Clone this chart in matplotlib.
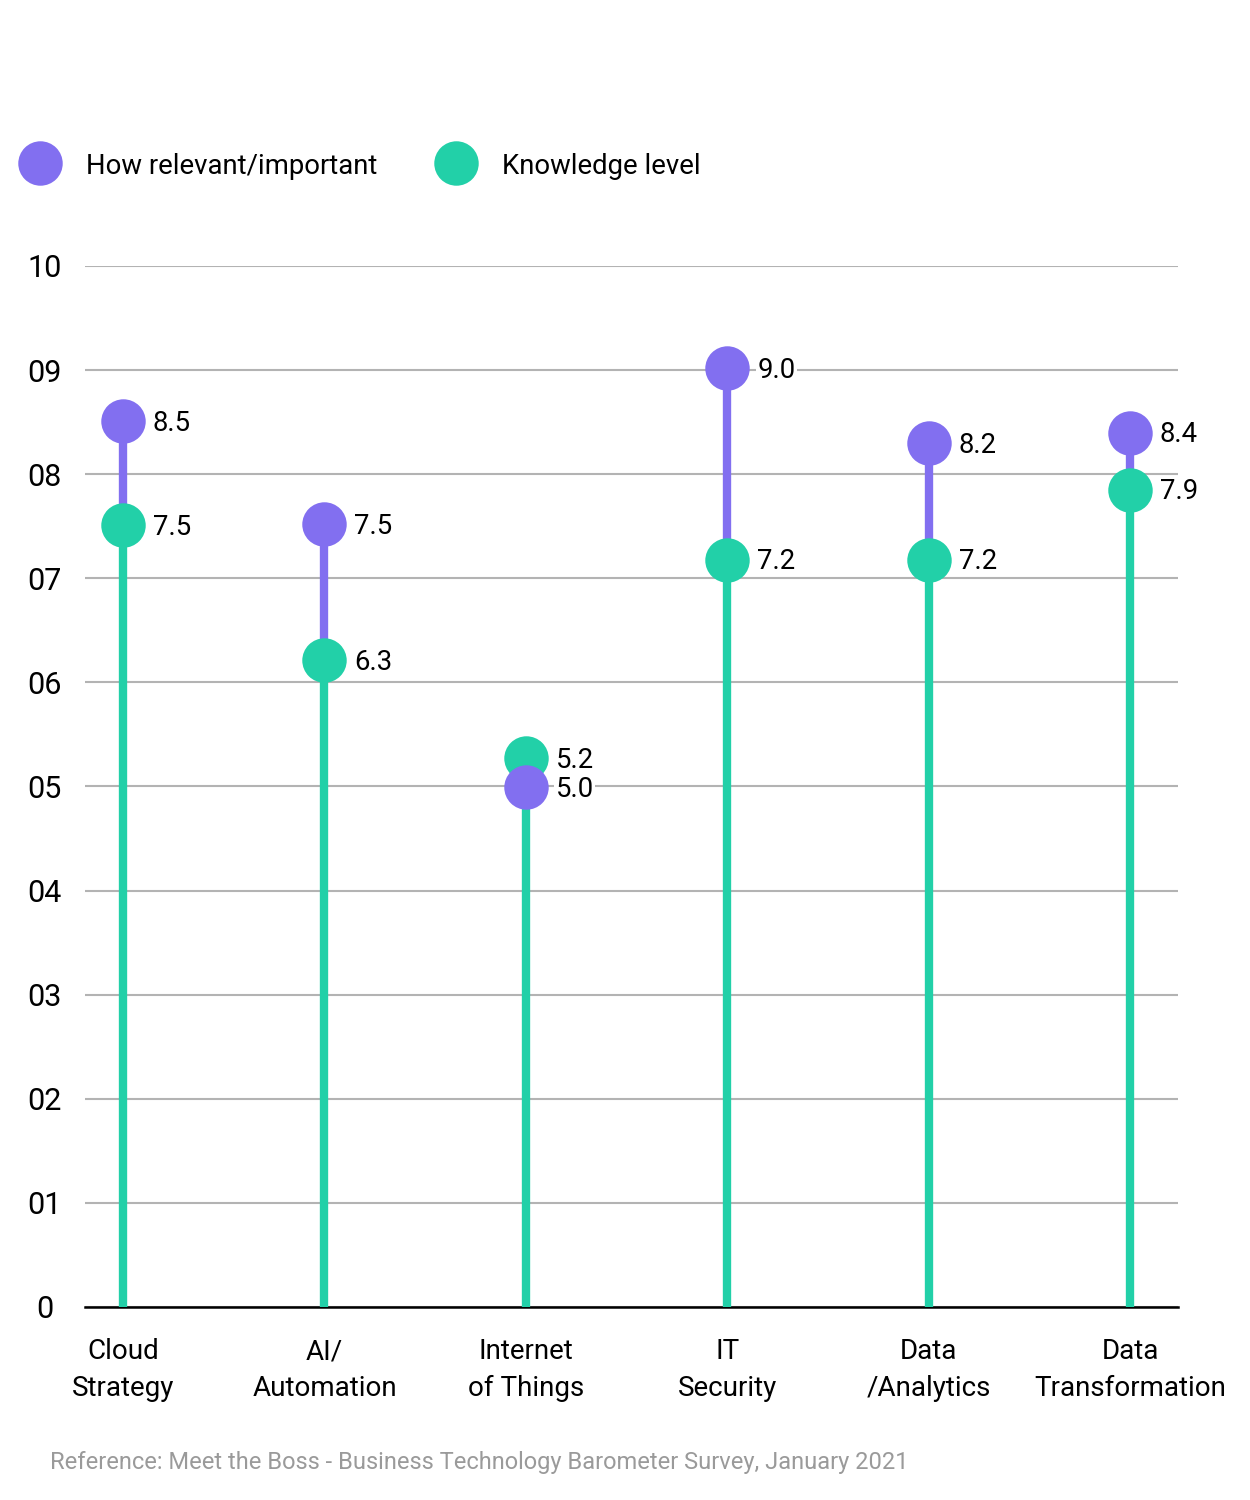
import matplotlib.pyplot as plt
from matplotlib.lines import Line2D

plt.rcParams['font.family'] = ['Roboto', 'DejaVu Sans']

categories = ['Cloud\nStrategy', 'AI/\nAutomation', 'Internet\nof Things', 'IT\nSecurity', 'Data\n/Analytics', 'Data\nTransformation']
# dot heights as drawn in the chart, and the value labels printed beside them
relevance = [8.51, 7.52, 4.99, 9.02, 8.30, 8.40]
knowledge = [7.51, 6.21, 5.27, 7.18, 7.18, 7.85]
relevance_labels = ['8.5', '7.5', '5.0', '9.0', '8.2', '8.4']
knowledge_labels = ['7.5', '6.3', '5.2', '7.2', '7.2', '7.9']
series_names = ['How relevant/important', 'Knowledge level']
ytick_vals = [0, 1, 2, 3, 4, 5, 6, 7, 8, 9, 10]
ytick_labels = ['0', '01', '02', '03', '04', '05', '06', '07', '08', '09', '10']

purple = '#826ff0'
green = '#22d0a8'

fig = plt.figure(figsize=(12.5, 15), dpi=100)
ax = fig.add_axes([0.068, 0.1287, 0.8744, 0.694])

x = list(range(len(categories)))

# stems
ax.vlines(x, 0, knowledge, color=green, linewidth=6, zorder=3)
for xi, r, k in zip(x, relevance, knowledge):
    if r > k:
        ax.vlines(xi, k, r, color=purple, linewidth=6, zorder=3)

# dots
ax.plot(x, knowledge, 'o', color=green, markersize=32, zorder=4, markeredgewidth=0)
ax.plot(x, relevance, 'o', color=purple, markersize=32, zorder=5, markeredgewidth=0)

for vals, labels in [(relevance, relevance_labels), (knowledge, knowledge_labels)]:
    for xi, v, t in zip(x, vals, labels):
        ax.annotate(t, (xi, v), xytext=(21.5, -1.5), textcoords='offset points',
                    ha='left', va='center', fontsize=19.8, zorder=6,
                    bbox=dict(boxstyle='square,pad=0.05', fc='white', ec='none'))

ax.set_ylim(0, 10)
ax.set_xlim(-0.189, 5.238)
ax.set_yticks(ytick_vals)
ax.set_yticklabels(ytick_labels, fontsize=22, ha='center')
ax.tick_params(axis='y', length=0, pad=29)
ax.set_xticks(x)
ax.set_xticklabels(categories, fontsize=20, linespacing=1.45)
ax.tick_params(axis='x', length=0, pad=22.5)
ax.grid(axis='y', color='#b3b3b3', linewidth=1.5, zorder=1)
ax.set_axisbelow(True)
for s in ['top', 'right', 'left']:
    ax.spines[s].set_visible(False)
ax.spines['bottom'].set_linewidth(1.8)
ax.spines['bottom'].set_color('black')
ax.spines['bottom'].set_zorder(2)

# legend
for px, name, col in [(40, series_names[0], purple), (456, series_names[1], green)]:
    fig.add_artist(Line2D([px / 1250], [1 - 163 / 1500], marker='o', color=col,
                          markersize=32, markeredgewidth=0, transform=fig.transFigure))
    fig.text((px + 46) / 1250, 1 - 166 / 1500, name, fontsize=19.8, va='center', ha='left')

fig.text(50 / 1250, 1 - 1462 / 1500,
         'Reference: Meet the Boss - Business Technology Barometer Survey, January 2021',
         fontsize=17, color='#9a9a9a', va='center', ha='left')

fig.savefig('out.png', dpi=100)
